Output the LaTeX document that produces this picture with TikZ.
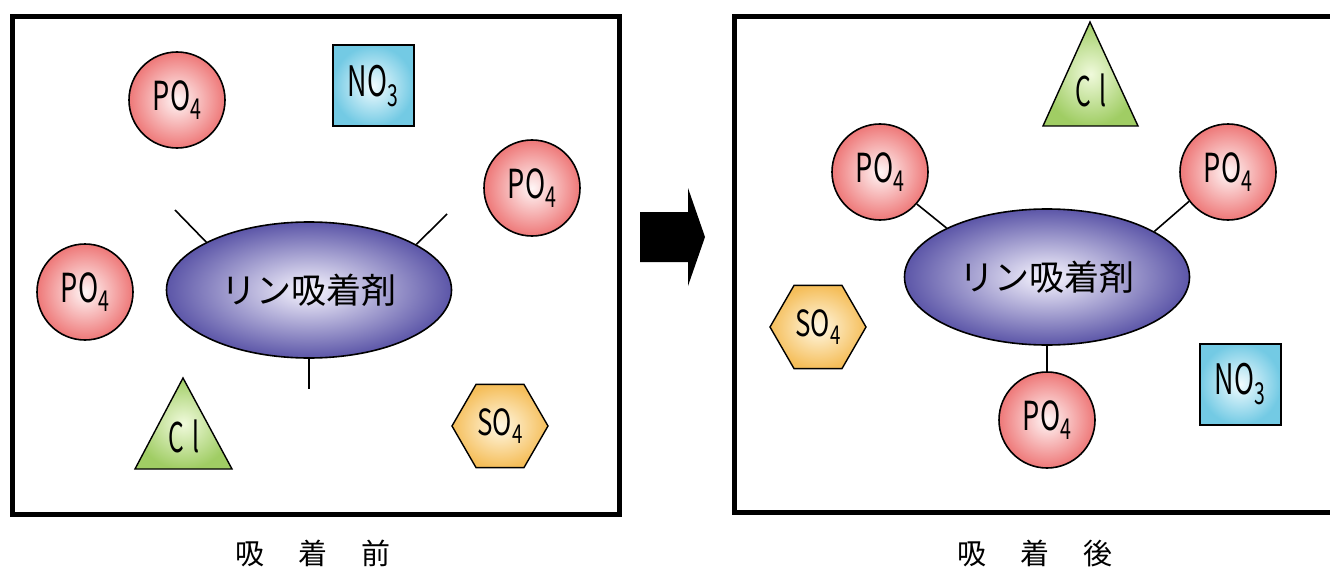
\documentclass[tikz,border=0pt]{standalone}
\usepackage{fontspec}
\usepackage{graphicx}
\setmainfont{Noto Sans CJK JP}
\usetikzlibrary{shapes.geometric}
\definecolor{pocol}{RGB}{238,120,120}
\definecolor{poin}{RGB}{255,246,246}
\definecolor{nocol}{RGB}{115,202,228}
\definecolor{noin}{RGB}{242,252,255}
\definecolor{clcol}{RGB}{160,205,100}
\definecolor{clin}{RGB}{240,250,220}
\definecolor{socol}{RGB}{245,190,90}
\definecolor{soin}{RGB}{255,248,228}
\definecolor{adcol}{RGB}{92,86,168}
\definecolor{adin}{RGB}{248,246,255}
\newcommand{\ionlab}[4]{\scalebox{#4}[1]{\fontsize{#3pt}{#3pt}\selectfont #1\raisebox{-0.22em}{\fontsize{#3pt}{#3pt}\selectfont\scalebox{0.72}{#2}}}}
\begin{document}
\begin{tikzpicture}[x=1pt,y=-1pt,
  frame/.style={line width=5pt, draw=black},
  po/.style={circle, draw=black, line width=1.6pt, minimum size=96pt, inner sep=0pt, inner color=poin, outer color=pocol},
  nobox/.style={rectangle, draw=black, line width=2pt, minimum size=81pt, inner sep=0pt, inner color=noin, outer color=nocol},
  sohex/.style={regular polygon, regular polygon sides=6, draw=black, line width=1.4pt, minimum size=96pt, inner sep=0pt, inner color=soin, outer color=socol},
  cltri/.style={draw=black, line width=1.4pt, line join=miter, inner color=clin, outer color=clcol},
  adsorb/.style={ellipse, draw=black, line width=1.6pt, minimum width=285pt, minimum height=136pt, inner sep=0pt, inner color=adin, outer color=adcol, font=\fontsize{35pt}{35pt}\selectfont},
  bond/.style={line width=1.6pt, draw=black},
  lbl/.style={inner sep=0pt},
  captext/.style={inner sep=0pt, font=\fontsize{29pt}{29pt}\selectfont}
]
\useasboundingbox (0,0) rectangle (1330,567);
% frames
\draw[frame] (12.5,16.5) rectangle (619.5,514.5);
\draw[frame] (1335,16.5) -- (734.5,16.5) -- (734.5,512) -- (1335,512);

% ---------- left: before ----------
\node[adsorb] (ellA) at (309,290) {リン吸着剤};
\coordinate (stubA1) at (175,210);
\coordinate (stubA2) at (447,214);
\coordinate (stubA3) at (309,389);
\draw[bond] (ellA.155) -- (stubA1);
\draw[bond] (ellA.23) -- (stubA2);
\draw[bond] (ellA.south) -- (stubA3);

\node[po] (pA1) at (177,100) {\ionlab{PO}{4}{40}{0.68}};
\node[po] (pA2) at (532,188) {\ionlab{PO}{4}{40}{0.68}};
\node[po] (pA3) at (85,292) {\ionlab{PO}{4}{40}{0.68}};
\node[nobox] (nA) at (373,86) {\ionlab{NO}{3}{42}{0.64}};
\node[sohex] (sA) at (500,426) {\ionlab{SO}{4}{36}{0.72}};
\coordinate (tA1) at (183,378);
\coordinate (tA2) at (232,469);
\coordinate (tA3) at (135,469);
\path[cltri] (tA1) -- (tA2) -- (tA3) -- cycle;
\node[lbl] (cA) at (184,436) {\scalebox{0.6}[1]{\fontsize{41pt}{41pt}\selectfont C\hspace{0.3em}l}};

% arrow
\fill[black] (640,212) -- (688,212) -- (688,188) -- (705,237) -- (688,286) -- (688,262) -- (640,262) -- cycle;

% ---------- right: after ----------
\node[adsorb] (ellB) at (1047,277) {リン吸着剤};
\node[po] (pB1) at (880,172) {\ionlab{PO}{4}{40}{0.68}};
\node[po] (pB2) at (1228,172) {\ionlab{PO}{4}{40}{0.68}};
\node[po] (pB3) at (1047,420) {\ionlab{PO}{4}{40}{0.68}};
\draw[bond] (pB1.-41) -- (ellB.154);
\draw[bond] (pB2.217) -- (ellB.23);
\draw[bond] (ellB.south) -- (pB3.north);
\node[sohex] (sB) at (818,327) {\ionlab{SO}{4}{36}{0.72}};
\node[nobox] (nB) at (1240,384) {\ionlab{NO}{3}{42}{0.64}};
\coordinate (tB1) at (1090,22);
\coordinate (tB2) at (1138,126);
\coordinate (tB3) at (1043,126);
\path[cltri] (tB1) -- (tB2) -- (tB3) -- cycle;
\node[lbl] (cB) at (1091,90) {\scalebox{0.6}[1]{\fontsize{41pt}{41pt}\selectfont C\hspace{0.3em}l}};

% captions
\node[captext] (capA) at (313,553) {吸\hspace{34pt}着\hspace{34pt}前};
\node[captext] (capB) at (1035,553) {吸\hspace{34pt}着\hspace{34pt}後};
\end{tikzpicture}
\end{document}
